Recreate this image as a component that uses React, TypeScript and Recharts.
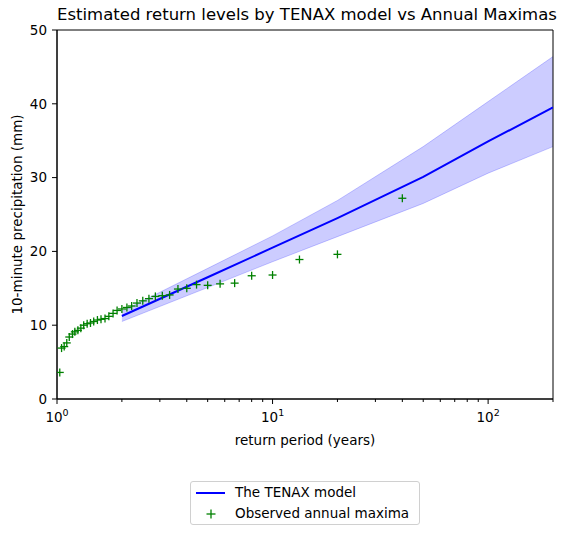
import React from 'react';
import {
  ComposedChart, XAxis, YAxis, Line, Area, Scatter, ReferenceArea,
} from 'recharts';

// Model return periods (years) and estimated return levels (mm)
const modelPeriods = [2, 5, 10, 20, 50, 100, 200];
const modelLevels = [11.25, 16.5, 20.5, 24.5, 30.1, 34.9, 39.5];
const modelLower = [10.5, 15.1, 18.6, 22.0, 26.5, 30.6, 34.2];
const modelUpper = [11.9, 17.7, 22.1, 26.9, 34.2, 40.3, 46.4];

// Observed annual maxima, plotting positions (years) and values (mm)
const obsPeriods = [
  40, 20, 13.33, 10, 8, 6.67, 5.71, 5, 4.44, 4, 3.64, 3.33, 3.08, 2.86, 2.67, 2.5, 2.35, 2.22, 2.11, 2,
  1.9, 1.82, 1.74, 1.67, 1.6, 1.54, 1.48, 1.43, 1.38, 1.33, 1.29, 1.25, 1.21, 1.18, 1.14, 1.11, 1.08, 1.05, 1.03,
];
const obsValues = [
  27.2, 19.6, 18.9, 16.8, 16.7, 15.7, 15.6, 15.4, 15.5, 15.0, 14.9, 14.1, 14.0, 13.9, 13.6, 13.3, 13.0, 12.6, 12.4, 12.2,
  12.0, 11.6, 11.2, 10.9, 10.8, 10.7, 10.5, 10.3, 10.2, 10.0, 9.6, 9.3, 9.1, 8.8, 8.4, 7.6, 7.1, 6.9, 3.6,
];

const xTicks = [1, 2, 3, 4, 5, 6, 7, 8, 9, 10, 20, 30, 40, 50, 60, 70, 80, 90, 100, 200];
const xMajor: Record<number, string> = { 1: '0', 10: '1', 100: '2' };
const yTicks = [0, 10, 20, 30, 40, 50];

const modelData = modelPeriods.map((T, i) => ({
  T, level: modelLevels[i], band: [modelLower[i], modelUpper[i]],
}));
const obsData = obsPeriods.map((T, i) => ({ T, value: obsValues[i] }));

const FONT = '"DejaVu Sans", sans-serif';
const FS = 13.5;

const XTick = (props: any) => {
  const { x, y, payload } = props;
  const exp = xMajor[payload.value];
  const major = exp !== undefined;
  return (
    <g>
      <line x1={x} x2={x} y1={y} y2={y + (major ? 5 : 3)} stroke="#000" strokeWidth={1} />
      {major && (
        <text x={x} y={y + 23} textAnchor="middle" fontFamily={FONT} fontSize={FS} fill="#000">
          10<tspan dy={-6} fontSize={9.5}>{exp}</tspan>
        </text>
      )}
    </g>
  );
};

const YTick = (props: any) => {
  const { x, y, payload } = props;
  return (
    <g>
      <line x1={x - 5} x2={x} y1={y} y2={y} stroke="#000" strokeWidth={1} />
      <text x={x - 10} y={y} dy={4.8} textAnchor="end" fontFamily={FONT} fontSize={FS} fill="#000">
        {payload.value}
      </text>
    </g>
  );
};

const Plus = (props: any) => {
  const { cx, cy } = props;
  const s = 4;
  return (
    <g stroke="#008000" strokeWidth={1.3}>
      <line x1={cx - s} x2={cx + s} y1={cy} y2={cy} />
      <line x1={cx} x2={cx} y1={cy - s} y2={cy + s} />
    </g>
  );
};

const LegendBox = () => (
  <div
    style={{
      position: 'absolute', left: 190, top: 481,
      width: 230, height: 44, border: '1px solid #d0d0d0', borderRadius: 3, background: '#fff',
      fontFamily: FONT, fontSize: FS, color: '#000', boxSizing: 'border-box',
    }}
  >
    <svg width={40} height={42} style={{ position: 'absolute', left: 0, top: 0 }}>
      <line x1={5} x2={34} y1={11} y2={11} stroke="#0000ff" strokeWidth={2} />
      <line x1={15.5} x2={24.5} y1={32} y2={32} stroke="#008000" strokeWidth={1.3} />
      <line x1={20} x2={20} y1={27.5} y2={36.5} stroke="#008000" strokeWidth={1.3} />
    </svg>
    <div style={{ position: 'absolute', left: 44, top: 2, whiteSpace: 'nowrap' }}>The TENAX model</div>
    <div style={{ position: 'absolute', left: 44, top: 23, whiteSpace: 'nowrap' }}>Observed annual maxima</div>
  </div>
);

export default function App() {
  return (
    <div style={{ position: 'absolute', left: 0, top: 0, width: 567, height: 536, background: '#fff' }}>
      <div
        style={{
          position: 'absolute', left: 57, width: 496, top: 5, textAlign: 'center',
          fontFamily: FONT, fontSize: 16.5, color: '#000', whiteSpace: 'nowrap', zIndex: 2,
        }}
      >
        Estimated return levels by TENAX model vs Annual Maximas
      </div>
      <ComposedChart
        width={567}
        height={536}
        margin={{ top: 30, right: 14, bottom: 77, left: 0 }}
        style={{ fontFamily: FONT }}
      >
        <XAxis
          dataKey="T"
          type="number"
          scale="log"
          domain={[1, 200]}
          allowDataOverflow
          ticks={xTicks}
          interval={0}
          tick={<XTick />}
          tickLine={false}
          tickSize={0}
          tickMargin={0}
          axisLine={{ stroke: '#000' }}
          height={60}
          label={(p: any) => {
            const vb = p.viewBox;
            return (
              <text x={vb.x + vb.width / 2} y={vb.y + 46} textAnchor="middle" fontFamily={FONT} fontSize={FS} fill="#000">
                return period (years)
              </text>
            );
          }}
        />
        <YAxis
          type="number"
          domain={[0, 50]}
          ticks={yTicks}
          interval={0}
          width={57}
          tick={<YTick />}
          tickLine={false}
          tickSize={0}
          tickMargin={0}
          axisLine={{ stroke: '#000' }}
          allowDataOverflow
          label={(p: any) => {
            const vb = p.viewBox;
            const cx = vb.x + 17;
            const cy = vb.y + vb.height / 2;
            return (
              <text x={cx} y={cy} transform={`rotate(-90 ${cx} ${cy})`} textAnchor="middle" dy={5}
                fontFamily={FONT} fontSize={FS} fill="#000">
                10-minute precipitation (mm)
              </text>
            );
          }}
        />
        <Area
          data={modelData}
          dataKey="band"
          type="linear"
          fill="#0000ff"
          fillOpacity={0.2}
          stroke="#0000ff"
          strokeOpacity={0.2}
          strokeWidth={1}
          isAnimationActive={false}
          legendType="none"
        />
        <Line
          data={modelData}
          dataKey="level"
          type="linear"
          stroke="#0000ff"
          strokeWidth={2}
          dot={false}
          isAnimationActive={false}
          name="The TENAX model"
        />
        <Scatter
          data={obsData}
          dataKey="value"
          shape={<Plus />}
          isAnimationActive={false}
          name="Observed annual maxima"
        />
        <ReferenceArea x1={1} x2={200} y1={0} y2={50} fill="none" stroke="#000" strokeWidth={1} ifOverflow="visible" />
      </ComposedChart>
      <LegendBox />
    </div>
  );
}
